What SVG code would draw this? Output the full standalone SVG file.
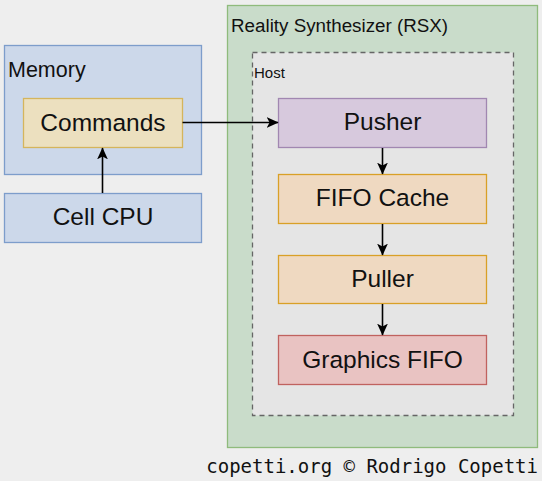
<svg xmlns="http://www.w3.org/2000/svg" width="542" height="481" viewBox="0 0 542 481">
<defs>
<marker id="arr" viewBox="0 0 10 10" refX="9.5" refY="5" markerWidth="12" markerHeight="12" markerUnits="userSpaceOnUse" orient="auto">
<path d="M0,0.5 L10,5 L0,9.5 L2.5,5 Z" fill="#000"/>
</marker>
<style>
.t{font-family:"Liberation Sans",Arial,sans-serif;fill:#111}
.big{font-size:24.5px;text-anchor:middle}
.conn{stroke:#000;stroke-width:1.6;fill:none;marker-end:url(#arr)}
</style>
</defs>
<rect width="542" height="481" fill="#eeeeee"/>
<g id="memory">
<rect x="4.5" y="45.5" width="197" height="129" fill="#ccd8ea" stroke="#7d9dcb" stroke-width="1.3"/>
<text class="t" x="8" y="77" font-size="21.5px">Memory</text>
</g>
<g id="commands">
<rect x="23.5" y="98.5" width="159" height="49" fill="#ece0bf" stroke="#d5b55c" stroke-width="1.3"/>
<text class="t big" x="103" y="131">Commands</text>
</g>
<g id="cellcpu">
<rect x="4.5" y="193.5" width="197" height="49" fill="#ccd8ea" stroke="#7d9dcb" stroke-width="1.3"/>
<text class="t big" x="103" y="225">Cell CPU</text>
</g>
<g id="rsx">
<rect x="227.5" y="5.5" width="310" height="442" fill="#c9dcca" stroke="#8fbb7c" stroke-width="1.3"/>
<text class="t" x="231" y="32" font-size="18.8px">Reality Synthesizer (RSX)</text>
</g>
<g id="host">
<rect x="252.5" y="52.5" width="261" height="363" fill="#e5e5e5" stroke="#666" stroke-width="1.3" stroke-dasharray="5,4"/>
<text class="t" x="254" y="78" font-size="15px" fill="#333">Host</text>
</g>
<g id="pusher">
<rect x="278.5" y="98.5" width="208" height="49" fill="#d7c9dd" stroke="#a187b1" stroke-width="1.3"/>
<text class="t big" x="382.5" y="130">Pusher</text>
</g>
<g id="fifocache">
<rect x="278.5" y="174.5" width="208" height="49" fill="#efd9c1" stroke="#d9a027" stroke-width="1.3"/>
<text class="t big" x="382.5" y="206">FIFO Cache</text>
</g>
<g id="puller">
<rect x="278.5" y="255.5" width="208" height="48" fill="#efd9c1" stroke="#d9a027" stroke-width="1.3"/>
<text class="t big" x="382.5" y="287">Puller</text>
</g>
<g id="graphicsfifo">
<rect x="278.5" y="335.5" width="208" height="49" fill="#e9c3c2" stroke="#c0625f" stroke-width="1.3"/>
<text class="t big" x="382.5" y="368">Graphics FIFO</text>
</g>
<g id="connectors">
<path class="conn" d="M182.5,122.5 L278,122.5"/>
<path class="conn" d="M102.5,193 L102.5,148"/>
<path class="conn" d="M382.5,148 L382.5,174"/>
<path class="conn" d="M382.5,224 L382.5,255"/>
<path class="conn" d="M382.5,304 L382.5,335"/>
</g>
<text x="538" y="473" font-family="'DejaVu Sans Mono',monospace" font-size="19px" text-anchor="end" fill="#111">copetti.org © Rodrigo Copetti</text>
</svg>
